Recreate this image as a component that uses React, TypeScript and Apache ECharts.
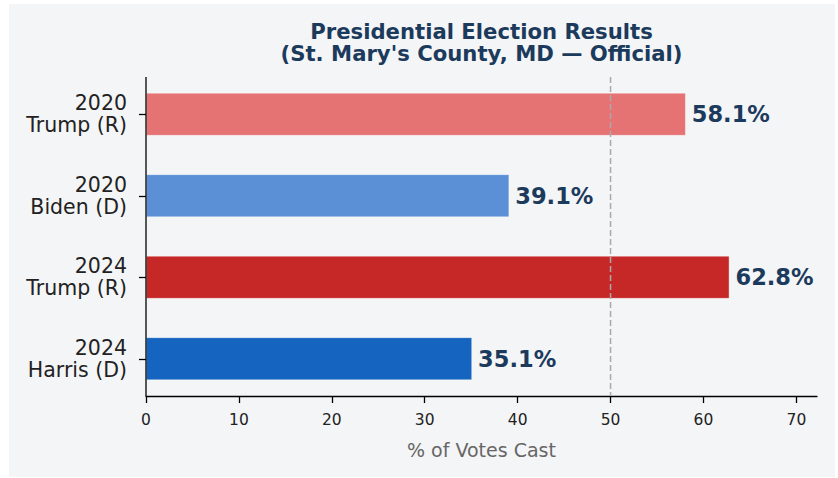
import React, { useEffect, useRef } from "react";
import * as echarts from "echarts";

const categories = ["2020\nTrump (R)", "2020\nBiden (D)", "2024\nTrump (R)", "2024\nHarris (D)"];
const values = [58.1, 39.1, 62.8, 35.1];
const barColors = ["#e57373", "#5b8fd6", "#c62828", "#1565c0"];
const xTickStep = 10;
const xMin = 0;
const xMax = 72.22;
const majorityLine = 50;
const titleLines = ["Presidential Election Results", "(St. Mary's County, MD — Official)"];
const xAxisName = "% of Votes Cast";

export default function App() {
  const ref = useRef<HTMLDivElement>(null);
  useEffect(() => {
    const chart = echarts.init(ref.current!, null, { renderer: "svg" });
    const W = 838;
    const H = 478;
    const plotLeft = 146;
    const plotRight = 817;
    const spineTop = 77;
    const spineBottom = 396;
    const gridTop = 73.5;
    const gridBottom = 399.5;
    const navy = "#1b3a5c";
    const font = "DejaVu Sans";

    chart.setOption({
      animation: false,
      textStyle: { fontFamily: font },
      grid: {
        left: plotLeft,
        right: W - plotRight,
        top: gridTop,
        bottom: H - gridBottom,
        containLabel: false,
      },
      xAxis: {
        type: "value",
        min: xMin,
        max: xMax,
        interval: xTickStep,
        offset: -(gridBottom - spineBottom),
        axisLine: { show: true, lineStyle: { color: "#000", width: 1.3 } },
        axisTick: { show: true, length: 7, lineStyle: { color: "#000", width: 1.3 } },
        axisLabel: { fontSize: 15.5, color: "#222", margin: 16, fontFamily: font },
        splitLine: { show: false },
        name: xAxisName,
        nameLocation: "middle",
        nameGap: 44,
        nameTextStyle: { fontSize: 19, color: "#666", fontFamily: font },
      },
      yAxis: {
        type: "category",
        data: categories,
        inverse: true,
        axisLine: { show: false },
        axisTick: { show: true, alignWithLabel: true, length: 7, lineStyle: { color: "#000", width: 1.3 } },
        axisLabel: {
          fontSize: 20.5,
          lineHeight: 22,
          color: "#222",
          align: "right",
          margin: 19,
          fontFamily: font,
        },
        splitLine: { show: false },
      },
      series: [
        {
          type: "bar",
          barWidth: 43,
          data: values.map((v, i) => ({
            value: v,
            itemStyle: { color: barColors[i], borderColor: "rgba(255,255,255,0.5)", borderWidth: 0.8 },
          })),
          label: {
            show: true,
            position: "right",
            distance: 6,
            formatter: (p: any) => `${Number(p.value).toFixed(1)}%`,
            fontSize: 22.5,
            fontWeight: "bold",
            color: navy,
            fontFamily: font,
          },
        },
      ],
    });

    const xLine = chart.convertToPixel({ xAxisIndex: 0 }, majorityLine) as number;
    const x0 = chart.convertToPixel({ xAxisIndex: 0 }, xMin) as number;
    const titleX = (plotLeft + plotRight) / 2;

    chart.setOption({
      graphic: [
        {
          type: "rect",
          z: -100,
          silent: true,
          shape: { x: 9, y: 4, width: 826, height: 473 },
          style: { fill: "#f4f5f7" },
        },
        {
          type: "line",
          z: 100,
          silent: true,
          shape: { x1: xLine, y1: spineTop, x2: xLine, y2: spineBottom },
          style: { stroke: "#aaaaaa", lineWidth: 1.5, lineDash: [6, 3] },
        },
        {
          type: "line",
          z: 100,
          silent: true,
          shape: { x1: x0, y1: spineTop, x2: x0, y2: spineBottom },
          style: { stroke: "#000", lineWidth: 1.3 },
        },
        ...titleLines.map((t, i) => ({
          type: "text",
          z: 100,
          x: titleX,
          y: 31 + i * 22.5,
          style: {
            text: t,
            align: "center",
            verticalAlign: "middle",
            fontSize: 21.2,
            fontWeight: "bold",
            fontFamily: font,
            fill: navy,
          },
        })),
      ],
    });

    return () => chart.dispose();
  }, []);

  return (
    <div
      ref={ref}
      style={{ position: "absolute", left: 0, top: 0, width: 838, height: 478, background: "#fff" }}
    />
  );
}
